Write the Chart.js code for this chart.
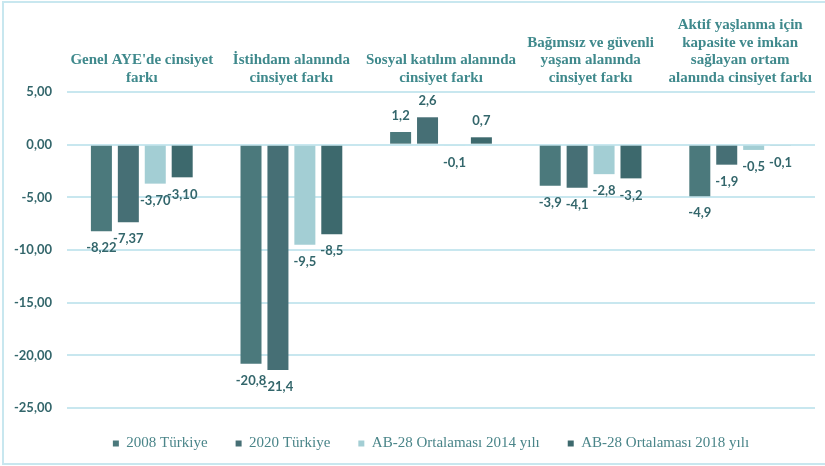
<!DOCTYPE html>
<html>
<head>
<meta charset="utf-8">
<script src="https://cdn.jsdelivr.net/npm/chart.js@4.4.1/dist/chart.umd.min.js"></script>
<style>
  html, body { margin: 0; padding: 0; background: #ffffff; }
  #wrap { width: 825px; height: 466px; position: relative; }
</style>
</head>
<body>
<div id="wrap"><canvas id="grafik" width="825" height="466"></canvas></div>
<script>
  // Kategoriler (çok satırlı başlıklar)
  var KATEGORILER = [
    ["Genel AYE'de cinsiyet", "farkı"],
    ["İstihdam alanında", "cinsiyet farkı"],
    ["Sosyal katılım alanında", "cinsiyet farkı"],
    ["Bağımsız ve güvenli", "yaşam alanında", "cinsiyet farkı"],
    ["Aktif yaşlanma için", "kapasite ve imkan", "sağlayan ortam", "alanında cinsiyet farkı"]
  ];
  var ONDALIK = [2, 1, 1, 1, 1]; // etiketlerdeki ondalık basamak sayısı

  var SERI_ADLARI = ["2008 Türkiye", "2020 Türkiye", "AB-28 Ortalaması 2014 yılı", "AB-28 Ortalaması 2018 yılı"];
  var TR_2008 = [-8.22, -20.8, 1.2, -3.9, -4.9];
  var TR_2020 = [-7.37, -21.4, 2.6, -4.1, -1.9];
  var AB_2014 = [-3.70, -9.5, -0.1, -2.8, -0.5];
  var AB_2018 = [-3.10, -8.5, 0.7, -3.2, -0.1];

  var Y_MIN = -25, Y_MAX = 5, Y_ADIM = 5;

  var RENKLER = ["#4b797c", "#466f75", "#a3ced4", "#3d696d"];
  var YAZI_KOYU = "#33666b";
  var BASLIK_RENK = "#3f898c";
  var IZGARA = "#c8e7ef";

  function virgul(v, d) { return v.toFixed(d).replace(".", ","); }

  var cerceve = {
    id: "cerceve",
    beforeDraw: function (chart) {
      var ctx = chart.ctx;
      ctx.save();
      ctx.fillStyle = "#ffffff";
      ctx.fillRect(0, 0, chart.width, chart.height);
      ctx.strokeStyle = IZGARA;
      ctx.lineWidth = 2;
      ctx.strokeRect(3, 2, chart.width + 10, chart.height - 4);
      ctx.restore();
    }
  };

  // lejantı referanstaki gibi biraz sağa kaydır
  var lejantKaydir = {
    id: "lejantKaydir",
    afterLayout: function (chart) {
      if (chart.legend) { chart.legend.left = 47; }
    }
  };

  var degerEtiketi = {
    id: "degerEtiketi",
    afterDatasetsDraw: function (chart) {
      var ctx = chart.ctx;
      ctx.save();
      ctx.font = "bold 13px Lato, 'Open Sans', sans-serif";
      ctx.fillStyle = YAZI_KOYU;
      ctx.textAlign = "center";
      ctx.textBaseline = "middle";
      chart.data.datasets.forEach(function (ds, i) {
        chart.getDatasetMeta(i).data.forEach(function (bar, j) {
          var v = ds.data[j];
          var y = v >= 0 ? bar.y - 16 : bar.y + 17;
          ctx.fillText(virgul(v, ONDALIK[j]), bar.x, y);
        });
      });
      ctx.restore();
    }
  };

  var seriler = [TR_2008, TR_2020, AB_2014, AB_2018];

  new Chart(document.getElementById("grafik"), {
    type: "bar",
    data: {
      labels: KATEGORILER,
      datasets: seriler.map(function (d, i) {
        return {
          label: SERI_ADLARI[i],
          data: d,
          backgroundColor: RENKLER[i],
          borderWidth: 0,
          categoryPercentage: 0.72,
          barPercentage: 0.78
        };
      })
    },
    options: {
      responsive: false,
      animation: false,
      layout: { padding: { left: 0, right: 10, top: 0, bottom: 5 } },
      scales: {
        x: {
          position: "top",
          grid: { display: false, drawTicks: false },
          border: { display: false },
          ticks: {
            padding: 5,
            color: BASLIK_RENK,
            maxRotation: 0,
            autoSkip: false,
            font: { family: "'Liberation Serif', 'DejaVu Serif', serif", size: 15, weight: "bold", lineHeight: 1.18 }
          },
          afterFit: function (s) { s.height = 92; }
        },
        y: {
          min: Y_MIN,
          max: Y_MAX,
          grid: { color: IZGARA, lineWidth: 2, drawTicks: false },
          border: { display: false },
          ticks: {
            stepSize: Y_ADIM,
            padding: 15,
            color: YAZI_KOYU,
            font: { family: "Lato, 'Open Sans', sans-serif", size: 13, weight: "bold" },
            callback: function (v) { return virgul(v, 2); }
          },
          afterFit: function (s) { s.width = 67; }
        }
      },
      plugins: {
        legend: {
          position: "bottom",
          labels: {
            boxWidth: 6,
            boxHeight: 6,
            padding: 28,
            color: "#4a8589",
            font: { family: "'Liberation Serif', 'DejaVu Serif', serif", size: 15 }
          }
        },
        tooltip: { enabled: false }
      }
    },
    plugins: [cerceve, lejantKaydir, degerEtiketi]
  });
</script>
</body>
</html>
